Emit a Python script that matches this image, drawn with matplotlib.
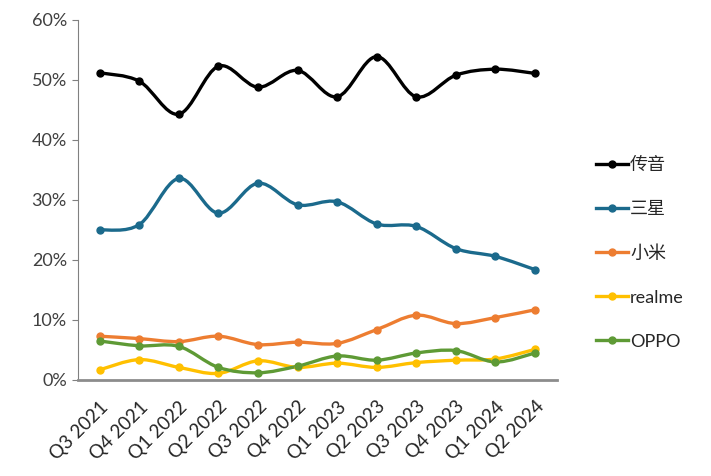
import numpy as np
import matplotlib.pyplot as plt
from matplotlib.path import Path
from matplotlib.patches import PathPatch
from matplotlib.lines import Line2D

plt.rcParams['font.family'] = ['Lato', 'Noto Sans CJK SC', 'DejaVu Sans']

quarters = ['Q3 2021', 'Q4 2021', 'Q1 2022', 'Q2 2022', 'Q3 2022', 'Q4 2022',
            'Q1 2023', 'Q2 2023', 'Q3 2023', 'Q4 2023', 'Q1 2024', 'Q2 2024']
brands = ['传音', '三星', '小米', 'realme', 'OPPO']
transsion = [51.2, 49.8, 44.3, 52.3, 48.8, 51.6, 47.2, 53.9, 47.2, 50.8, 51.8, 51.1]
samsung = [25.0, 25.9, 33.6, 27.8, 32.8, 29.2, 29.7, 26.0, 25.6, 21.9, 20.6, 18.4]
xiaomi = [7.3, 6.9, 6.4, 7.3, 5.9, 6.3, 6.1, 8.4, 10.8, 9.4, 10.4, 11.7]
realme = [1.7, 3.4, 2.1, 1.1, 3.2, 2.1, 2.8, 2.1, 2.9, 3.3, 3.5, 5.1]
oppo = [6.5, 5.7, 5.6, 2.1, 1.2, 2.3, 4.0, 3.3, 4.5, 4.9, 3.0, 4.5]
colors = ['#000000', '#1b6a8c', '#ed7d31', '#ffc000', '#5e9a35']


def smooth_path(xs, ys):
    # Excel-style smoothed line: cubic Bezier through every point
    pts = np.column_stack([xs, ys]).astype(float)
    n = len(pts)
    verts = [pts[0]]
    codes = [Path.MOVETO]
    for i in range(n - 1):
        p0 = pts[i - 1] if i > 0 else pts[i]
        p1, p2 = pts[i], pts[i + 1]
        p3 = pts[i + 2] if i + 2 < n else pts[i + 1]
        verts += [p1 + (p2 - p0) / 6, p2 - (p3 - p1) / 6, p2]
        codes += [Path.CURVE4] * 3
    return Path(verts, codes)


fig = plt.figure(figsize=(7.11, 4.76), dpi=100)
ax = fig.add_axes([0.1097, 0.2017, 0.6733, 0.7563])

x = np.arange(len(quarters))
handles = []
for name, vals, c in zip(brands, [transsion, samsung, xiaomi, realme, oppo], colors):
    ax.add_patch(PathPatch(smooth_path(x, vals), fill=False, edgecolor=c,
                           lw=2.4, capstyle='round', joinstyle='round'))
    ax.plot(x, vals, ls='none', marker='o', ms=5, color=c)
    handles.append(Line2D([], [], color=c, lw=2.4, marker='o', ms=5))

ax.set_xlim(-0.55, len(quarters) - 0.45)
ax.set_ylim(0, 60)
ax.set_yticks(range(0, 61, 10))
ax.set_yticklabels([f'{v}%' for v in range(0, 61, 10)])
ax.set_xticks(x)
ax.set_xticklabels(quarters, rotation=45, ha='right', va='top',
                   rotation_mode='anchor')

for s in ['top', 'right']:
    ax.spines[s].set_visible(False)
ax.spines['left'].set_color('#808080')
ax.spines['bottom'].set_color('#8c8c8c')
ax.spines['bottom'].set_linewidth(2)
ax.tick_params(axis='y', colors='#808080', labelcolor='#404040',
               labelsize=13, length=4, pad=4)
ax.tick_params(axis='x', length=0, labelcolor='#262626', labelsize=13.5, pad=13)

fig.legend(handles, brands, loc='center left', bbox_to_anchor=(0.815, 0.468),
           frameon=False, fontsize=13, labelcolor='#262626',
           handlelength=1.8, handletextpad=0.1, labelspacing=1.55)

fig.savefig('out.png', dpi=100)
